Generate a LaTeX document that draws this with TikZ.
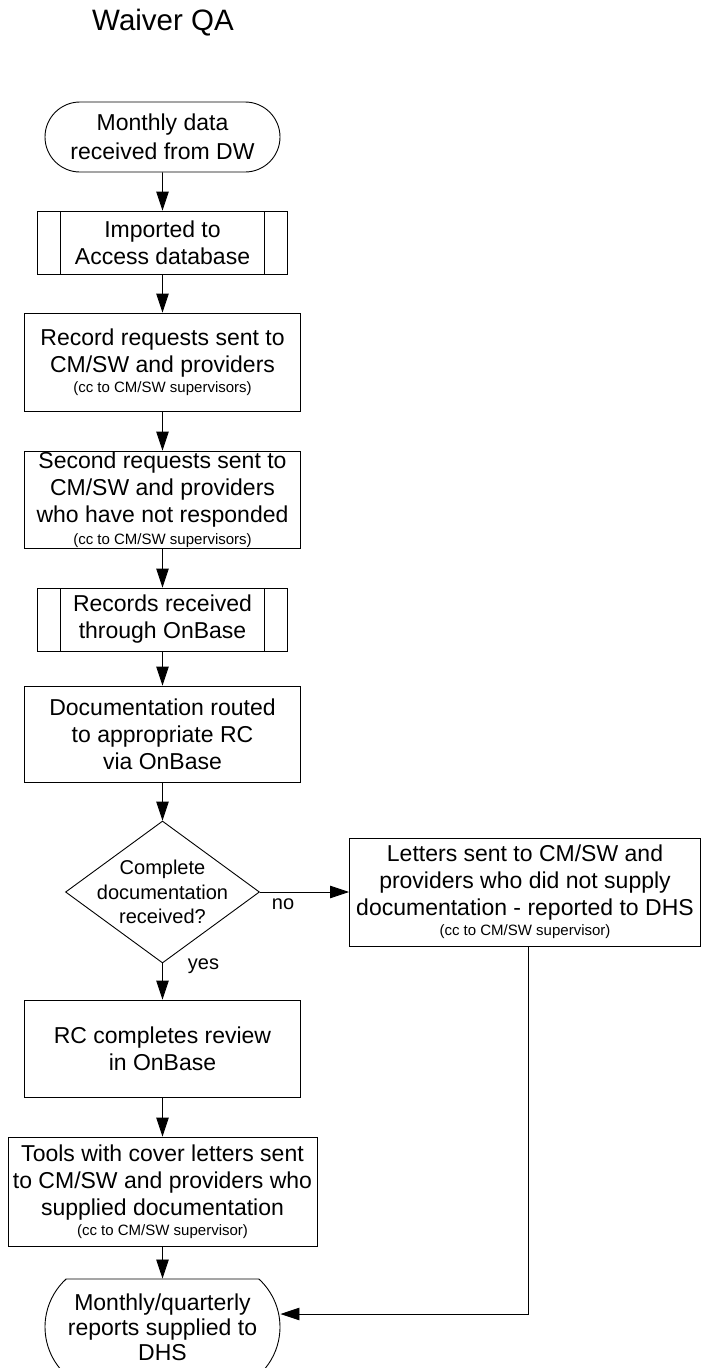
\documentclass[tikz,border=0pt]{standalone}
\usepackage{fontspec}
\setmainfont{Liberation Sans}
\usetikzlibrary{positioning,shapes.geometric,shapes.misc,arrows.meta}

\newcommand{\ccnote}[1]{{\fontsize{15}{17}\selectfont #1}}

\tikzset{
  base/.style={draw, line width=0.9pt, align=center, inner sep=0pt,
    font=\fontsize{23}{27}\selectfont},
  proc/.style={base, rectangle},
  subproc/.style={proc, path picture={
    \draw[line width=0.9pt] ([xshift=23pt]path picture bounding box.north west)
      -- ([xshift=23pt]path picture bounding box.south west);
    \draw[line width=0.9pt] ([xshift=-23pt]path picture bounding box.north east)
      -- ([xshift=-23pt]path picture bounding box.south east);}},
  terminal/.style={base, rounded rectangle, rounded rectangle arc length=#1},
  terminal/.default=180,
  decision/.style={draw, line width=0.9pt, diamond, inner sep=0pt},
  flow/.style={line width=0.9pt, -{Triangle[length=19pt,width=12.5pt]}},
  lbl/.style={inner sep=0pt, font=\fontsize{20}{24}\selectfont}
}

\begin{document}
\begin{tikzpicture}[x=1pt,y=-1pt]
\path[use as bounding box, fill=white] (0,0) rectangle (701,1368);

\node[font=\fontsize{29.5}{34}\selectfont] (title) at (163,23) {Waiver QA};

	\node[terminal, minimum width=235pt, minimum height=70pt] (start) at (162.5,137)
		{Monthly data\\[2pt]received from DW};
	\node[subproc, minimum width=250pt, minimum height=63pt] (import) at (162.5,242.5)
		{Imported to\\Access database};
	\node[proc, minimum width=276pt, minimum height=98pt] (request) at (162.5,362)
		{Record requests sent to\\CM/SW and providers\\[-7pt]\ccnote{(cc to CM/SW supervisors)}};
	\node[proc, minimum width=276pt, minimum height=97pt] (second) at (162.5,499.5)
		{Second requests sent to\\CM/SW and providers\\who have not responded\\[-5pt]\ccnote{(cc to CM/SW supervisors)}};
	\node[subproc, minimum width=250pt, minimum height=63pt] (received) at (162.5,619.5)
		{Records received\\through OnBase};
	\node[proc, minimum width=276pt, minimum height=96pt] (routed) at (162.5,734)
		{Documentation routed\\to appropriate RC\\via OnBase};
	\node[decision, minimum width=194pt, minimum height=142pt] (check) at (162.5,892) {};
	\node[lbl, align=center, font=\fontsize{20}{24.5}\selectfont] (checktext) at (check)
		{Complete\\documentation\\received?};
	\node[proc, minimum width=351pt, minimum height=108pt] (letters) at (525,892)
		{Letters sent to CM/SW and\\providers who did not supply\\documentation - reported to DHS\\[-7pt]\ccnote{(cc to CM/SW supervisor)}};
	\node[proc, minimum width=276pt, minimum height=97pt] (review) at (162.5,1048.5)
		{RC completes review\\in OnBase};
	\node[proc, minimum width=309pt, minimum height=109pt] (tools) at (162.5,1191.5)
		{Tools with cover letters sent\\to CM/SW and providers who\\supplied documentation\\[-7pt]\ccnote{(cc to CM/SW supervisor)}};
	\node[terminal=95, minimum width=235pt, minimum height=96pt] (reports) at (162.5,1327)
		{Monthly/quarterly\\[-2pt]reports supplied to\\[-2pt]DHS};

	\coordinate (turn) at (528,1314);

	\draw[flow] (start) -- (import);
	\draw[flow] (import) -- (request);
	\draw[flow] (request) -- (second);
	\draw[flow] (second) -- (received);
	\draw[flow] (received) -- (routed);
	\draw[flow] (routed) -- (check);
	\draw[flow] (check) -- node[lbl, pos=0.26, below=6pt] (no) {no} (letters);
	\draw[flow] (check) -- node[lbl, pos=0.08, right=25pt] (yes) {yes} (review);
	\draw[flow] (review) -- (tools);
	\draw[flow] (tools) -- (reports);
	\draw[flow] (letters.south -| turn) -- (turn) -- (turn -| reports.east);
\end{tikzpicture}
\end{document}
